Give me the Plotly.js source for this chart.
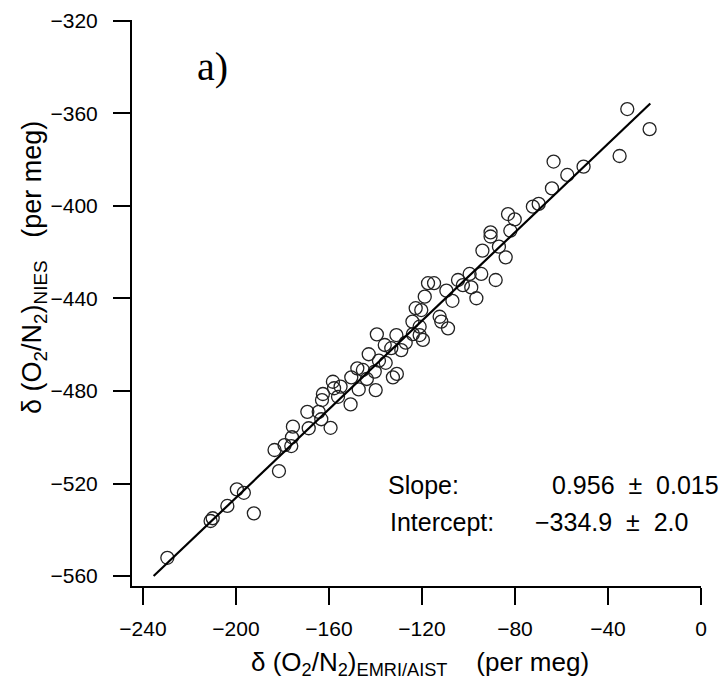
<!DOCTYPE html>
<html>
<head>
<meta charset="utf-8">
<script src="https://cdn.plot.ly/plotly-3.0.1.min.js"></script>
<style>html,body{margin:0;padding:0;background:#fff;}</style>
</head>
<body>
<div id="chart" style="width:725px;height:681px;"></div>
<script>
// Observed data: delta(O2/N2) EMRI/AIST (x) vs NIES (y), per meg
const xEMRI = [
  -229.5,-210.9,-210.0,-203.7,-199.6,-196.6,-192.3,-181.5,-183.4,-179.1,
  -176.2,-175.9,-175.5,-168.7,-169.3,-164.4,-163.3,-159.3,-162.6,-163.0,
  -158.3,-157.8,-155.0,-156.1,-150.7,-150.4,-147.8,-147.2,-145.4,-143.7,
  -139.9,-140.3,-142.9,-138.5,-135.6,-132.5,-130.8,-139.4,-136.0,-133.2,
  -131.0,-128.9,-127.0,-123.9,-121.0,-119.6,-124.1,-117.4,-118.8,-122.7,
  -121.0,-31.7,-22.1,-35.0,-63.4,-50.5,-57.5,-64.1,-72.3,-69.8,
  -83.0,-80.1,-82.0,-90.5,-90.5,-86.9,-94.0,-84.0,-94.5,-99.5,
  -88.3,-104.5,-102.4,-98.8,-96.6,-106.9,-114.8,-109.5,-112.4,-120.3,
  -108.8,-111.7
];
const yNIES = [
  -552.1,-536.2,-535.0,-529.7,-522.5,-524.0,-532.9,-514.6,-505.5,-503.4,
  -503.8,-500.0,-495.4,-496.1,-489.0,-489.0,-492.2,-495.9,-481.3,-483.9,
  -476.0,-478.8,-478.1,-482.5,-485.8,-474.1,-470.2,-479.3,-470.9,-474.8,
  -479.6,-471.6,-464.1,-466.9,-467.8,-474.1,-472.6,-455.5,-460.1,-461.5,
  -455.8,-462.3,-459.1,-455.4,-455.8,-457.9,-450.0,-433.4,-439.2,-444.2,
  -452.2,-358.1,-366.8,-378.4,-380.8,-383.0,-386.6,-392.4,-400.3,-399.1,
  -403.5,-405.8,-410.7,-411.4,-413.2,-417.6,-419.3,-422.2,-429.4,-429.4,
  -432.0,-432.0,-434.2,-435.2,-439.9,-441.0,-433.4,-436.6,-447.9,-445.0,
  -452.9,-450.0
];
// Regression line end points as drawn
const fitX = [-235.4, -21.8];
const fitY = [-560.0, -355.7];
const fitLabels = ["Slope:", "0.956\u00a0\u00a0\u00b1\u00a0\u00a00.015", "Intercept:", "\u2212334.9\u00a0\u00a0\u00b1\u00a0\u00a02.0"];
const xTicks = [-240, -200, -160, -120, -80, -40, 0];
const yTicks = [-560, -520, -480, -440, -400, -360, -320];

// plot area in pixels
const L = 132, R = 24, T = 20, B = 95, W = 725, H = 681;
const pw = W - L - R, ph = H - T - B;
const px = v => (v - L) / pw;
const py = v => (H - B - v) / ph;

const traces = [
  {
    x: xEMRI, y: yNIES, mode: 'markers', type: 'scatter',
    marker: {symbol: 'circle-open', size: 13, color: '#222', line: {width: 1.3, color: '#222'}},
    hoverinfo: 'x+y'
  },
  {
    x: fitX, y: fitY, mode: 'lines', type: 'scatter',
    line: {color: '#000', width: 2.2}, hoverinfo: 'skip'
  }
];

const sans = 'Liberation Sans, Arial, sans-serif';
const axisCommon = {
  showgrid: false, zeroline: false, showline: true, linecolor: '#000', linewidth: 2,
  ticks: 'outside', ticklen: 17, tickwidth: 2, tickcolor: '#000',
  tickfont: {family: sans, size: 21, color: '#000'},
  mirror: false
};

function ann(x, y, text, size, xa, extra) {
  return Object.assign({xref: 'paper', yref: 'paper', x: px(x), y: py(y), text: text,
    showarrow: false, xanchor: xa, yanchor: 'middle',
    font: {family: sans, size: size, color: '#000'}}, extra || {});
}

const layout = {
  width: W, height: H,
  margin: {l: L, r: R, t: T, b: B},
  paper_bgcolor: '#fff', plot_bgcolor: '#fff',
  showlegend: false,
  xaxis: Object.assign({}, axisCommon, {
    range: [-244.7, 0], tickmode: 'array', tickvals: xTicks,
    ticktext: xTicks.map(v => v < 0 ? '\u2212' + Math.abs(v) : String(v)),
    ticklabelstandoff: 6
  }),
  yaxis: Object.assign({}, axisCommon, {
    range: [-564.3, -319.6], tickmode: 'array', tickvals: yTicks,
    ticktext: yTicks.map(v => '\u2212' + Math.abs(v)),
    ticklabelstandoff: 11
  }),
  annotations: [
    ann(212, 66, 'a)', 40, 'center', {font: {family: 'Liberation Serif, Times New Roman, serif', size: 40, color: '#000'}}),
    ann(386, 485, fitLabels[0], 25, 'left'),
    ann(721, 485, fitLabels[1], 25, 'right'),
    ann(388, 522, fitLabels[2], 25, 'left'),
    ann(533, 522, fitLabels[3], 25, 'left'),
    ann(420, 663, '\u03b4\u00a0(O<sub>2</sub>/N<sub>2</sub>)<sub>EMRI/AIST</sub>\u00a0\u00a0\u00a0\u00a0(per meg)', 26, 'center'),
    ann(34, 268, '\u03b4\u00a0(O<sub>2</sub>/N<sub>2</sub>)<sub>NIES</sub>\u00a0\u00a0\u00a0(per meg)', 27, 'center', {textangle: -90})
  ]
};

Plotly.newPlot('chart', traces, layout, {displayModeBar: false, staticPlot: true});
</script>
</body>
</html>
